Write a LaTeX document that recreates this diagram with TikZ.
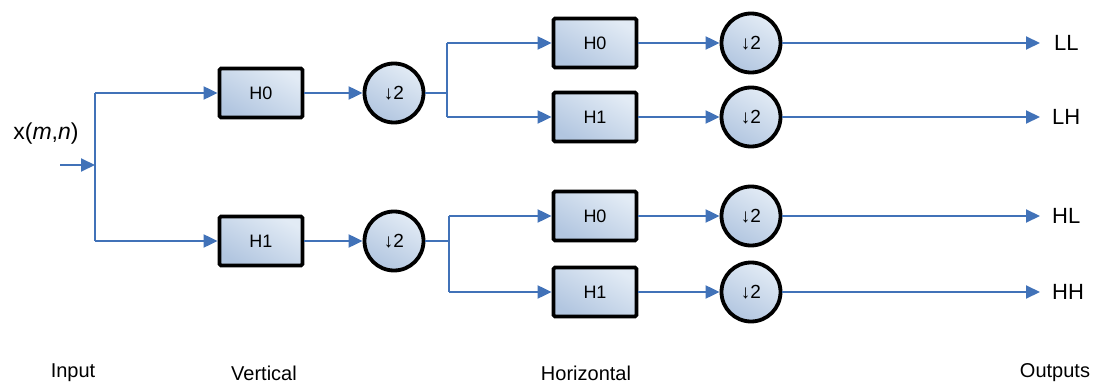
\documentclass[tikz,border=0pt]{standalone}
\usepackage{fontspec}
\setmainfont{Liberation Sans}
\usetikzlibrary{arrows.meta,calc}
\definecolor{wire}{HTML}{4172B8}
\definecolor{filltop}{HTML}{E2EBF5}
\definecolor{fillbot}{HTML}{B2C6E0}
\tikzset{
  filt/.style={draw=black, line width=3.8pt, rounded corners=1.5pt,
    minimum width=83pt, minimum height=49pt, inner sep=0pt,
    top color=filltop, bottom color=fillbot, shading angle=-30,
    font=\fontsize{18}{21}\selectfont},
  down/.style={draw=black, line width=3.8pt, circle, minimum size=59pt, inner sep=0pt,
    top color=filltop, bottom color=fillbot, shading angle=-30,
    font=\fontsize{19}{22}\selectfont},
  wireline/.style={draw=wire, line width=2pt, -{Triangle[length=14pt,width=13pt]}},
  plain/.style={draw=wire, line width=2pt},
  outlbl/.style={font=\fontsize{22}{25}\selectfont, anchor=west, inner sep=0pt},
  caption/.style={font=\fontsize{20}{24}\selectfont}
}
\begin{document}
\begin{tikzpicture}[x=1pt,y=-1pt]
\useasboundingbox (0,0) rectangle (1095,385);
% input
\node[font=\fontsize{23}{26}\selectfont] (xin) at (46,134) {x(\textit{m},\textit{n})};
\coordinate (src) at (60,165);
\coordinate (split) at (95,165);
\coordinate (splitT) at (95,93);
\coordinate (splitB) at (95,241);
% vertical stage
\node[filt] (v0) at (261,93) {H0};
\node[filt] (v1) at (261,241) {H1};
\node[down] (d0) at (394,93) {↓2};
\node[down] (d1) at (394,241) {↓2};
% horizontal stage, upper
\coordinate (bU) at (447,93);
\node[filt] (h00) at (595,43) {H0};
\node[filt] (h01) at (595,117) {H1};
\node[down] (e00) at (751,43) {↓2};
\node[down] (e01) at (751,117) {↓2};
% horizontal stage, lower
\coordinate (bL) at (449,241);
\node[filt] (h10) at (595,216) {H0};
\node[filt] (h11) at (595,292) {H1};
\node[down] (e10) at (751,216) {↓2};
\node[down] (e11) at (751,292) {↓2};
% outputs
\node[outlbl] (oLL) at (1054,43) {LL};
\node[outlbl] (oLH) at (1052,117) {LH};
\node[outlbl] (oHL) at (1052,216) {HL};
\node[outlbl] (oHH) at (1052,292) {HH};
\coordinate (tLL) at (1040,43);
\coordinate (tLH) at (1040,117);
\coordinate (tHL) at (1040,216);
\coordinate (tHH) at (1040,292);
% wires
\draw[wireline] (src) -- (split);
\draw[plain] (splitT) -- (splitB);
\draw[wireline] (splitT) -- (v0.west);
\draw[wireline] (splitB) -- (v1.west);
\draw[wireline] (v0) -- (d0);
\draw[wireline] (v1) -- (d1);
\draw[plain] (d0.east) -- (bU);
\draw[plain] (bU |- h00) -- (bU |- h01);
\draw[wireline] (bU |- h00) -- (h00.west);
\draw[wireline] (bU |- h01) -- (h01.west);
\draw[plain] (d1.east) -- (bL);
\draw[plain] (bL |- h10) -- (bL |- h11);
\draw[wireline] (bL |- h10) -- (h10.west);
\draw[wireline] (bL |- h11) -- (h11.west);
\foreach \a/\b in {h00/e00,h01/e01,h10/e10,h11/e11} \draw[wireline] (\a) -- (\b);
\draw[wireline] (e00.east) -- (tLL);
\draw[wireline] (e01.east) -- (tLH);
\draw[wireline] (e10.east) -- (tHL);
\draw[wireline] (e11.east) -- (tHH);
% stage captions
\node[caption] (cIn) at (73,373) {Input};
\node[caption] (cV) at (264,373) {Vertical};
\node[caption] (cH) at (586,373) {Horizontal};
\node[caption] (cO) at (1055,373) {Outputs};
\end{tikzpicture}
\end{document}
